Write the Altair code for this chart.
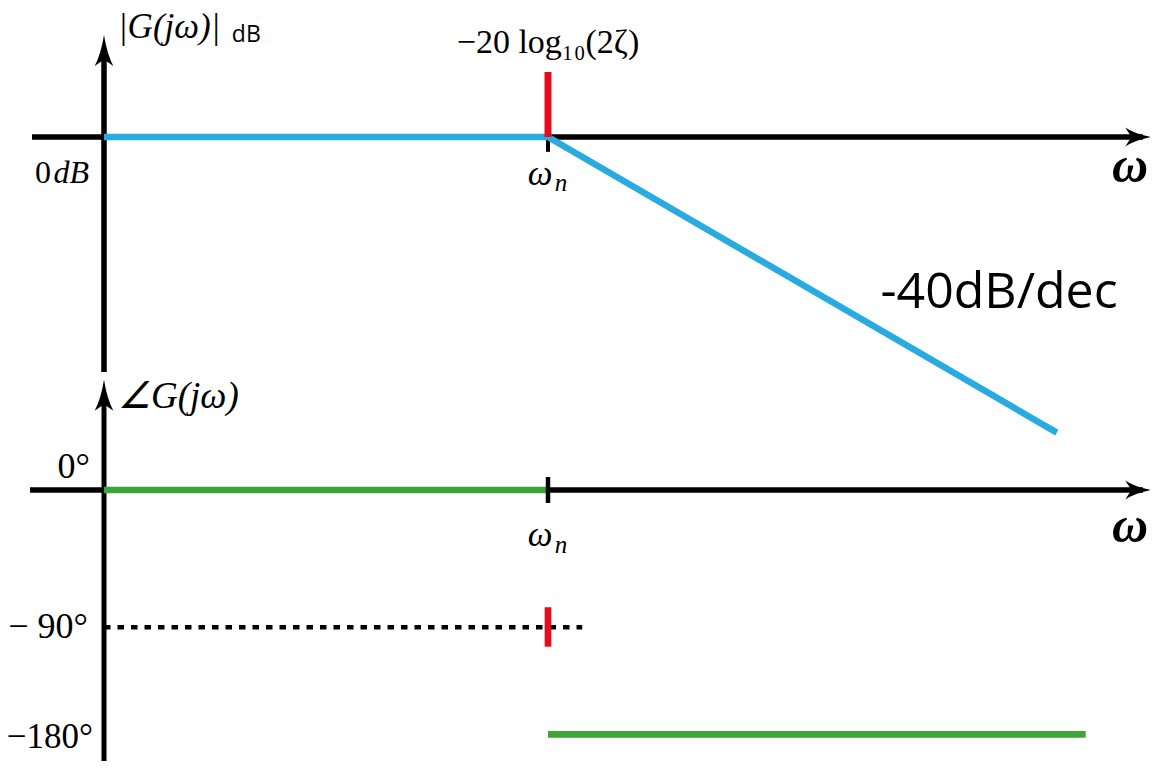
import altair as alt
import pandas as pd

# ---------------- data (x = log10(omega/omega_n) in decades) ----------------
# magnitude asymptote (dB)
mag_x = [-1.0, 0.0, 1.146]
mag_db = [0.0, 0.0, -45.8]
# resonance marker -20 log10(2 zeta) (dB)
peak_x = [0.0]
peak_lo = [0.0]
peak_hi = [10.07]

# phase asymptotes (degrees)
phase_lo_x = [-1.0, 0.0]
phase_lo_deg = [0.0, 0.0]
phase_hi_x = [0.0, 1.211]
phase_hi_deg = [-180.0, -180.0]
# -90 deg reference (dotted) and its marker
ref90_x = [-1.0, 0.077]
ref90_deg = [-90.0, -90.0]
mark90_x = [0.0]
mark90_lo = [-106.3]
mark90_hi = [-76.86]

# ---------------- scales ----------------
X = alt.Scale(domain=[-1, 0], range=[96, 540], nice=False, zero=False)
YDB = alt.Scale(domain=[-40, 0], range=[387.2, 129], nice=False, zero=False)
YDEG = alt.Scale(domain=[-180, -90, 0], range=[726.3, 619.3, 482], nice=False, zero=False)

BLUE = "#29abe2"
GREEN = "#3ea638"
RED = "#e30d1c"
SERIF = "Liberation Serif"
SANS = "Open Sans"


def seg(x1, x2, y1, y2, ys, color, width, dash=None):
    df = pd.DataFrame({"x": [x1], "x2": [x2], "y": [y1], "y2": [y2]})
    kw = dict(color=color, strokeWidth=width, strokeCap="butt")
    if dash:
        kw["strokeDash"] = dash
    enc = dict(x=alt.X("x:Q", scale=X, axis=None), y=alt.Y("y:Q", scale=ys, axis=None))
    if x1 != x2:
        enc["x2"] = "x2:Q"
    if y1 != y2:
        enc["y2"] = "y2:Q"
    return alt.Chart(df).mark_rule(**kw).encode(**enc)


def poly(xs, ys_vals, ys, color, width, dash=None):
    df = pd.DataFrame({"x": xs, "y": ys_vals, "o": list(range(len(xs)))})
    kw = dict(color=color, strokeWidth=width, strokeCap="butt", strokeJoin="miter")
    if dash:
        kw["strokeDash"] = dash
    return alt.Chart(df).mark_line(**kw).encode(
        x=alt.X("x:Q", scale=X, axis=None),
        y=alt.Y("y:Q", scale=ys, axis=None),
        order="o:Q",
    )


UP = "M0,0 Q0.3,1.9 0.93,3.1 L0,2.45 L-0.93,3.1 Q-0.3,1.9 0,0 Z"
RIGHT = "M0,0 Q-1.6,0.3 -2.57,0.95 L-1.95,0 L-2.57,-0.95 Q-1.6,-0.3 0,0 Z"


def arrow(x, y, ys, shape):
    df = pd.DataFrame({"x": [x], "y": [y]})
    return alt.Chart(df).mark_point(
        shape=shape, filled=True, color="black", opacity=1, size=400, strokeWidth=0
    ).encode(x=alt.X("x:Q", scale=X, axis=None), y=alt.Y("y:Q", scale=ys, axis=None))


def label(text, x, y, ys, size, font=SERIF, style="normal", weight="normal",
          align="center", baseline="alphabetic"):
    df = pd.DataFrame({"x": [x], "y": [y], "t": [text]})
    return alt.Chart(df).mark_text(
        font=font, fontSize=size, fontStyle=style, fontWeight=weight,
        align=align, baseline=baseline, color="black"
    ).encode(
        x=alt.X("x:Q", scale=X, axis=None),
        y=alt.Y("y:Q", scale=ys, axis=None),
        text="t:N",
    )


layers = [
    # ---- magnitude panel ----
    seg(-1.1622, 1.34, 0, 0, YDB, "black", 5.5),
    seg(-1, -1, -36.4, 12.7, YDB, "black", 5.5),
    arrow(-1, 15.80, YDB, UP),
    arrow(1.358, 0, YDB, RIGHT),
    seg(0, 0, 0, -2.3, YDB, "black", 4),
    poly(mag_x, mag_db, YDB, BLUE, 6.5),
    seg(peak_x[0], peak_x[0], peak_lo[0], peak_hi[0], YDB, RED, 7),
    label("|G(jω)|", -0.9685, 15.26, YDB, 35, style="italic", align="left"),
    label("dB", -0.712, 14.64, YDB, 23, font=SANS, align="left"),
    label("0", -1.1194, -7.13, YDB, 32, align="right"),
    label("dB", -1.0338, -7.13, YDB, 32, style="italic", align="right"),
    label("−20 log₁₀(2ζ)", 0, 13.01, YDB, 34),
    label("ω", -0.018, -7.44, YDB, 35, style="italic"),
    label("n", 0.0293, -8.37, YDB, 25, style="italic"),
    label("-40dB/dec", 1.0158, -26.49, YDB, 50, font=SANS),
    label("ω", 1.3108, -6.97, YDB, 50, style="italic", weight="bold"),
    # ---- phase panel ----
    seg(-1.1667, 1.34, 0, 0, YDEG, "black", 5.5),
    seg(-1, -1, -208.6, 62.4, YDEG, "black", 5),
    arrow(-1, 72.27, YDEG, UP),
    arrow(1.358, 0, YDEG, RIGHT),
    poly(ref90_x, ref90_deg, YDEG, "black", 4.5, dash=[6.5, 7]),
    poly(phase_lo_x, phase_lo_deg, YDEG, GREEN, 6.5),
    poly(phase_hi_x, phase_hi_deg, YDEG, GREEN, 6.7),
    seg(0, 0, 8.54, -8.54, YDEG, "black", 4.5),
    seg(mark90_x[0], mark90_x[0], mark90_lo[0], mark90_hi[0], YDEG, RED, 6.7),
    label("∠G(jω)", -0.9685, 53.87, YDEG, 37, style="italic", align="left"),
    label("0°", -1.0315, 7.88, YDEG, 36, align="right"),
    label("ω", -0.018, -36.79, YDEG, 35, style="italic"),
    label("n", 0.0293, -41.39, YDEG, 25, style="italic"),
    label("−  90°", -1.036, -99.0, YDEG, 36, align="right"),
    label("−180°", -1.0248, -191.5, YDEG, 35, align="right"),
    label("ω", 1.3108, -34.16, YDEG, 50, style="italic", weight="bold"),
]

chart = (
    alt.layer(*layers)
    .resolve_scale(y="independent")
    .properties(width=1142, height=753, autosize=alt.AutoSizeParams(type="none"), padding=0)
    .configure_view(stroke=None)
)

chart.save("out.html", embed_options={"renderer": "svg", "actions": False})
